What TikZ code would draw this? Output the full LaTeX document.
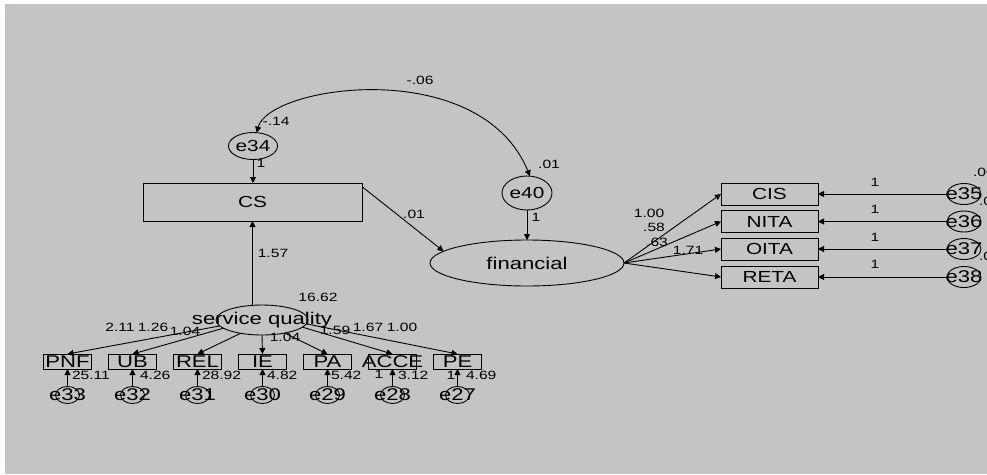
\documentclass[tikz,border=0pt]{standalone}
\usepackage{fontspec}
\setmainfont[FakeStretch=1.3]{Liberation Sans}
\usetikzlibrary{arrows.meta,shapes.geometric}
\definecolor{bg}{HTML}{C5C3C6}
\begin{document}
\begin{tikzpicture}[x=1pt,y=-1pt,
  every node/.style={inner sep=0pt, outer sep=0pt},
  obs/.style={draw, line width=0.9pt, rectangle},
  ell/.style={draw, ellipse, line width=0.9pt},
  lbl/.style={font=\fontsize{12}{13}\selectfont},
  txt/.style={font=\fontsize{16}{18}\selectfont},
  big/.style={font=\fontsize{17}{19}\selectfont},
  arr/.style={line width=0.9pt, -{Triangle[length=6pt,width=6pt]}},
  sbox/.style={obs, minimum width=48pt, minimum height=15pt},
  serr/.style={ell, minimum width=24pt, minimum height=17pt},
  rbox/.style={obs, minimum width=97pt, minimum height=22pt, txt},
  rerr/.style={ell, minimum width=34pt, minimum height=21pt},
]
\useasboundingbox (0,0) rectangle (987,474);
\clip (0,0) rectangle (987,474);
\fill[white] (0,0) rectangle (987,474);
\fill[bg] (5,4) rectangle (987,474);

% main nodes
\node[obs, minimum width=219pt, minimum height=38pt, txt] (cs) at (252.5,202) {CS};
\node[ell, minimum width=41pt, minimum height=27pt, txt] (e34) at (253,146) {e34};
\node[ell, minimum width=50pt, minimum height=34pt, txt] (e40) at (527,193) {e40};
\node[ell, minimum width=194pt, minimum height=46pt, big] (fin) at (527,263) {financial};
\node[ell, minimum width=92pt, minimum height=30pt, label={[big]center:service quality}] (sq) at (262,320) {};

% bottom indicators
\foreach \n/\t/\x in {pnf/PNF/67.5, ub/UB/132.5, rel/REL/197.5, ie/IE/262.5, pa/PA/327.5, acce/ACCE/392.5, pe/PE/457.5}{
  \node[sbox, label={[big]center:\t}] (\n) at (\x,361.5) {};
}
\foreach \n/\t/\x in {e33/e33/67.5, e32/e32/132.5, e31/e31/197.5, e30/e30/262.5, e29/e29/327.5, e28/e28/392.5, e27/e27/457.5}{
  \node[serr, label={[big]center:\t}] (\n) at (\x,395) {};
}

% right indicators
\node[rbox] (cis) at (769.5,194) {CIS};
\node[rbox] (nita) at (769.5,221.5) {NITA};
\node[rbox] (oita) at (769.5,249) {OITA};
\node[rbox] (reta) at (769.5,277) {RETA};
\node[rerr, label={[big]center:e35}] (e35) at (964,194) {};
\node[rerr, label={[big]center:e36}] (e36) at (964,221.5) {};
\node[rerr, label={[big]center:e37}] (e37) at (964,249) {};
\node[rerr, label={[big]center:e38}] (e38) at (964,277) {};

% connectors
\draw[line width=0.9pt, {Triangle[length=6pt,width=6pt]}-{Triangle[length=6pt,width=6pt]}]
  (e34.75) .. controls (270,85) and (480,55) .. (e40.80);
\draw[arr] (e34.south) -- (e34.south |- cs.north);
\draw[arr] (e40.south) -- (fin.north);
\draw[arr] (cs.8) -- (fin.172);
\draw[arr] (sq.north -| cs.south) -- (cs.south);

\draw[arr] (sq.188) -- (pnf.north);
\draw[arr] (sq.192) -- (ub.north);
\draw[arr] (sq.212) -- (rel.north);
\draw[arr] (sq.270) -- (ie.north);
\draw[arr] (sq.330) -- (pa.north);
\draw[arr] (sq.350) -- (acce.north);
\draw[arr] (sq.355) -- (pe.north);

\foreach \e/\b in {e33/pnf, e32/ub, e31/rel, e30/ie, e29/pa, e28/acce, e27/pe}{
  \draw[arr] (\e.north) -- (\b.south);
}

\foreach \b in {cis, nita, oita, reta}{
  \draw[arr] (fin.east) -- (\b.west);
}
\draw[arr] (e35.west) -- (cis.east);
\draw[arr] (e36.west) -- (nita.east);
\draw[arr] (e37.west) -- (oita.east);
\draw[arr] (e38.west) -- (reta.east);

% labels
\node[lbl] (l1) at (420,80) {-.06};
\node[lbl] (l2) at (276,121) {-.14};
\node[lbl] (l3) at (261,163) {1};
\node[lbl] (l4) at (549,164) {.01};
\node[lbl] (l5) at (536,217) {1};
\node[lbl] (l6) at (414,214) {.01};
\node[lbl] (l7) at (273,253) {1.57};
\node[lbl] (l8) at (318,297) {16.62};
\node[lbl] (l9) at (120,327) {2.11};
\node[lbl] (l10) at (153,327) {1.26};
\node[lbl] (l11) at (185,331) {1.04};
\node[lbl] (l12) at (285,337) {1.04};
\node[lbl] (l13) at (335,330) {1.59};
\node[lbl] (l14) at (368,327) {1.67};
\node[lbl] (l15) at (402,327) {1.00};
\node[lbl, anchor=west] (v1) at (72,375) {25.11};
\node[lbl, anchor=west] (v2) at (140,375) {4.26};
\node[lbl, anchor=west] (v3) at (202,375) {28.92};
\node[lbl, anchor=west] (v4) at (267,375) {4.82};
\node[lbl, anchor=west] (v5) at (331,375) {5.42};
\node[lbl, anchor=west] (v6) at (398,375) {3.12};
\node[lbl, anchor=west] (v7) at (466,375) {4.69};
\node[lbl] (w6) at (379,374) {1};
\node[lbl] (w7) at (451,375) {1};
\node[lbl] (r1) at (649,213) {1.00};
\node[lbl] (r2) at (654,227) {.58};
\node[lbl] (r3) at (657,242) {.63};
\node[lbl] (r4) at (688,250) {1.71};
\node[lbl] (o1) at (875,182) {1};
\node[lbl] (o2) at (875,209) {1};
\node[lbl] (o3) at (875,237) {1};
\node[lbl] (o4) at (875,264) {1};
\node[lbl, anchor=west] (c1) at (973,172) {.00};
\node[lbl, anchor=west] (c2) at (979,201) {.00};
\node[lbl, anchor=west] (c3) at (979,256) {.00};
\end{tikzpicture}
\end{document}
